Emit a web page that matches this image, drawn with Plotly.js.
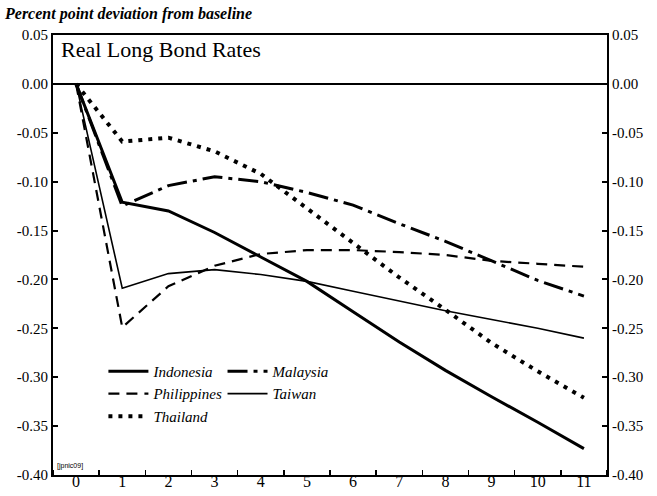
<!DOCTYPE html>
<html>
<head>
<meta charset="utf-8">
<script src="https://cdn.plot.ly/plotly-3.0.1.min.js"></script>
<style>html,body{margin:0;padding:0;background:#fff;}#chart{width:657px;height:496px;}</style>
</head>
<body>
<div id="chart"></div>
<script>
const periods = [0,1,2,3,4,5,6,7,8,9,10,11];
const indonesia   = [0,-0.121,-0.130,-0.152,-0.177,-0.202,-0.233,-0.264,-0.293,-0.320,-0.346,-0.373];
const malaysia    = [0,-0.125,-0.104,-0.095,-0.100,-0.111,-0.124,-0.143,-0.161,-0.181,-0.201,-0.217];
const philippines = [0,-0.249,-0.207,-0.186,-0.174,-0.170,-0.170,-0.172,-0.175,-0.181,-0.184,-0.187];
const taiwan      = [0,-0.209,-0.194,-0.190,-0.195,-0.202,-0.212,-0.222,-0.232,-0.241,-0.250,-0.260];
const thailand    = [0,-0.059,-0.055,-0.069,-0.092,-0.127,-0.163,-0.198,-0.231,-0.265,-0.294,-0.321];

const yTickVals = [0.05,0,-0.05,-0.10,-0.15,-0.20,-0.25,-0.30,-0.35,-0.40];
const yTickText = ["0.05","0.00","-0.05","-0.10","-0.15","-0.20","-0.25","-0.30","-0.35","-0.40"];
const xTickVals = periods;
const xTickText = periods.map(String);

const chartTitle = "Real Long Bond Rates";
const unitLabel = "Percent point deviation from baseline";
const tagLabel = "[jpnic09]";

const serif = "Liberation Serif";

const traces = [
  {x: periods, y: taiwan, name: "Taiwan", mode: "lines", legend: "legend2",
   line: {color: "#000", width: 1.6}},
  {x: periods, y: philippines, name: "Philippines", mode: "lines", legend: "legend",
   line: {color: "#000", width: 2.2, dash: "11px,7px"}},
  {x: periods, y: malaysia, name: "Malaysia", mode: "lines", legend: "legend2",
   line: {color: "#000", width: 3, dash: "20px,6px,4px,6px"}},
  {x: periods, y: thailand, name: "Thailand", mode: "lines", legend: "legend",
   line: {color: "#000", width: 4, dash: "4px,6px"}},
  {x: periods, y: indonesia, name: "Indonesia", mode: "lines", legend: "legend",
   line: {color: "#000", width: 3}},
  {x: [], y: [], yaxis: "y2", showlegend: false, hoverinfo: "skip", mode: "lines"},
  {x: [], y: [], xaxis: "x2", showlegend: false, hoverinfo: "skip", mode: "lines"}
];

const legendFont = {family: serif, size: 15, color: "#000", style: "italic"};

const layout = {
  width: 657, height: 496,
  margin: {l: 53, r: 50, t: 35, b: 21, pad: 0},
  paper_bgcolor: "#fff", plot_bgcolor: "#fff",
  showlegend: true,
  font: {family: serif, color: "#000"},
  xaxis: {
    range: [-0.5, 11.5], tickmode: "array", tickvals: xTickVals, ticktext: xTickText,
    ticks: "", showticklabels: false, showgrid: false, zeroline: false,
    showline: true, linecolor: "#000", linewidth: 2, mirror: true,
    minor: {tick0: 0.5, dtick: 1, ticks: "inside", ticklen: 5, tickwidth: 1.5, tickcolor: "#000", showgrid: false}
  },
  xaxis2: {
    overlaying: "x", anchor: "free", position: 0.011, side: "bottom",
    range: [-0.5, 11.5], tickmode: "array", tickvals: xTickVals, ticktext: xTickText,
    ticks: "", showline: false, showgrid: false, zeroline: false,
    tickfont: {family: serif, size: 16, color: "#000"}
  },
  yaxis: {
    range: [-0.40, 0.05], tickmode: "array", tickvals: yTickVals, ticktext: yTickText,
    ticks: "inside", ticklen: 5, tickwidth: 2, tickcolor: "#000",
    showgrid: false, zeroline: true, zerolinecolor: "#000", zerolinewidth: 2,
    showline: true, linecolor: "#000", linewidth: 2,
    tickfont: {family: serif, size: 15, color: "#000"}
  },
  yaxis2: {
    overlaying: "y", side: "right", anchor: "x",
    range: [-0.40, 0.05], tickmode: "array", tickvals: yTickVals, ticktext: yTickText,
    ticks: "inside", ticklen: 5, tickwidth: 2, tickcolor: "#000",
    showgrid: false, zeroline: false,
    showline: true, linecolor: "#000", linewidth: 2,
    tickfont: {family: serif, size: 15, color: "#000"}
  },
  legend: {
    x: 0.091, y: 0.273, xanchor: "left", yanchor: "top",
    bgcolor: "rgba(0,0,0,0)", borderwidth: 0, font: legendFont,
    traceorder: "normal", itemwidth: 40, tracegroupgap: 0
  },
  legend2: {
    x: 0.306, y: 0.273, xanchor: "left", yanchor: "top",
    bgcolor: "rgba(0,0,0,0)", borderwidth: 0, font: legendFont,
    traceorder: "normal", itemwidth: 40, tracegroupgap: 0
  },
  annotations: [
    {text: chartTitle, xref: "paper", yref: "paper", x: 0.011, y: 0.966,
     xanchor: "left", yanchor: "middle", showarrow: false,
     font: {family: serif, size: 22, color: "#000"}},
    {text: "<b><i>" + unitLabel + "</i></b>", xref: "paper", yref: "paper",
     x: -0.092, y: 1.048, xanchor: "left", yanchor: "middle", showarrow: false,
     font: {family: serif, size: 16, color: "#000"}},
    {text: tagLabel, xref: "paper", yref: "paper", x: 0.004, y: 0.007,
     xanchor: "left", yanchor: "bottom", showarrow: false,
     font: {family: "Liberation Sans", size: 7, color: "#000"}}
  ]
};

const order = {"Indonesia":1, "Philippines":2, "Thailand":3, "Malaysia":1, "Taiwan":2};
traces.forEach(t => { if (t.name) t.legendrank = order[t.name]; });

Plotly.newPlot("chart", traces, layout, {staticPlot: true, displayModeBar: false});
</script>
</body>
</html>
